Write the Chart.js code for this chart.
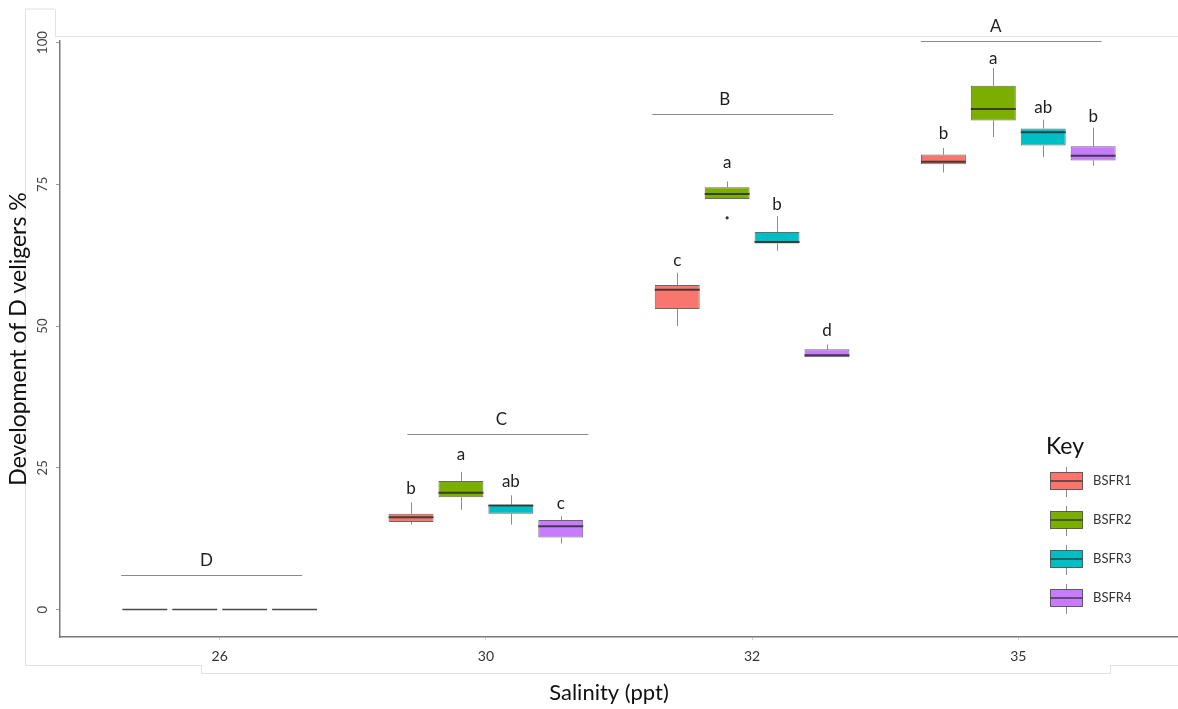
<!DOCTYPE html>
<html>
<head>
<meta charset="utf-8">
<title>Development of D veligers by salinity</title>
<script src="https://cdn.jsdelivr.net/npm/chart.js@4.4.0/dist/chart.umd.min.js"></script>
<style>
  html, body { margin: 0; padding: 0; background: #fff; }
</style>
</head>
<body>
<canvas id="boxChart" width="1178" height="709"></canvas>
<script>
const salinity = ['26', '30', '32', '35'];
const strains = ['BSFR1', 'BSFR2', 'BSFR3', 'BSFR4'];
const colors = ['#F8766D', '#7CAE00', '#00BFC4', '#C77CFF'];

// [lower whisker, q1, median, q3, upper whisker] for each salinity
const bsfr1 = [[0, 0, 0, 0, 0], [15.0, 15.45, 16.3, 16.9, 18.9], [50.0, 53.0, 56.4, 57.25, 59.4], [77.1, 78.55, 79.0, 80.25, 81.4]];
const bsfr2 = [[0, 0, 0, 0, 0], [17.6, 19.8, 20.6, 22.7, 24.3], [72.4, 72.4, 73.3, 74.5, 75.5], [83.35, 86.25, 88.3, 92.4, 95.5]];
const bsfr3 = [[0, 0, 0, 0, 0], [15.0, 16.9, 18.35, 18.5, 20.15], [63.25, 64.55, 64.85, 66.6, 69.4], [79.8, 81.85, 84.2, 84.85, 86.4]];
const bsfr4 = [[0, 0, 0, 0, 0], [11.65, 12.7, 14.7, 15.8, 16.45], [44.5, 44.5, 44.85, 45.9, 46.75], [78.3, 79.2, 80.05, 81.7, 85.0]];
const series = [bsfr1, bsfr2, bsfr3, bsfr4];

// outliers: [strain index, salinity index, value]
const outliers = [[1, 2, 69.1]];

// compact letter display above each box (text and height in %)
const letters = [
  ['', 'b', 'c', 'b'],
  ['', 'a', 'a', 'a'],
  ['', 'ab', 'b', 'ab'],
  ['', 'c', 'd', 'b']
];
const letterY = [
  [null, 21.4, 61.6, 83.9],
  [null, 27.4, 78.9, 97.2],
  [null, 22.6, 71.4, 88.5],
  [null, 18.7, 49.3, 87.0]
];

// salinity groups: bracket letter, bracket height (%), bracket span (in category units)
const groupLetters = ['D', 'C', 'B', 'A'];
const groupLineY = [6.05, 31.0, 87.4, 100.25];
const groupSpan = [[-0.37, 0.31], [-0.295, 0.385], [-0.375, 0.305], [-0.366, 0.313]];
const groupLabelShift = [-0.02, 0.013, -0.068, -0.058];

const yTicks = [0, 25, 50, 75, 100];

const FONT = 'Lato, "Open Sans", sans-serif';

const datasets = series.map((s, d) => ({
    label: strains[d],
    data: s.map((v, i) => ({ x: i, y: [v[1], v[3]] })),
    backgroundColor: colors[d],
    borderColor: 'rgba(55,55,55,0.75)',
    borderWidth: 1,
    borderSkipped: false,
    categoryPercentage: 0.75,
    barPercentage: 0.9
}));

const boxExtras = {
    id: 'boxExtras',
    beforeDatasetsDraw(chart) {
        // whiskers sit behind the boxes
        const { ctx } = chart;
        const y = chart.scales.y;
        ctx.save();
        ctx.strokeStyle = '#8c8c8c';
        ctx.lineWidth = 1;
        series.forEach((s, d) => {
            const meta = chart.getDatasetMeta(d);
            s.forEach((v, i) => {
                const x = Math.round(meta.data[i].x) + 0.5;
                ctx.beginPath();
                ctx.moveTo(x, y.getPixelForValue(v[4]));
                ctx.lineTo(x, y.getPixelForValue(v[3]));
                ctx.moveTo(x, y.getPixelForValue(v[1]));
                ctx.lineTo(x, y.getPixelForValue(v[0]));
                ctx.stroke();
            });
        });
        ctx.restore();
    },
    afterDatasetsDraw(chart) {
        const { ctx } = chart;
        const y = chart.scales.y;
        ctx.save();
        // medians
        series.forEach((s, d) => {
            const meta = chart.getDatasetMeta(d);
            s.forEach((v, i) => {
                const bar = meta.data[i];
                const py = y.getPixelForValue(v[2]);
                const flat = v[3] === v[1] && v[1] === 0;
                ctx.strokeStyle = flat ? '#4a4a4a' : 'rgba(45,45,45,0.85)';
                ctx.lineWidth = flat ? 1.5 : 2;
                ctx.beginPath();
                ctx.moveTo(bar.x - bar.width / 2, py);
                ctx.lineTo(bar.x + bar.width / 2, py);
                ctx.stroke();
            });
        });
        // outliers
        ctx.fillStyle = '#333';
        outliers.forEach(o => {
            const bar = chart.getDatasetMeta(o[0]).data[o[1]];
            ctx.beginPath();
            ctx.arc(bar.x, y.getPixelForValue(o[2]), 1.6, 0, Math.PI * 2);
            ctx.fill();
        });
        ctx.restore();
    },
    afterDraw(chart) {
        const { ctx, chartArea } = chart;
        const x = chart.scales.x;
        const y = chart.scales.y;
        ctx.save();

        // faint frame edges left over from the original figure
        ctx.strokeStyle = '#e2e2e2';
        ctx.lineWidth = 1;
        ctx.beginPath();
        ctx.moveTo(25.5, 9); ctx.lineTo(55.5, 9); ctx.lineTo(55.5, 36.5); ctx.lineTo(1178, 36.5);
        ctx.moveTo(25.5, 9); ctx.lineTo(25.5, 665.5); ctx.lineTo(201.5, 665.5); ctx.lineTo(201.5, 673.5);
        ctx.lineTo(1110.5, 673.5); ctx.lineTo(1110.5, 665.5); ctx.lineTo(1178, 665.5);
        ctx.stroke();

        // letters above boxes
        ctx.fillStyle = '#1e1e1e';
        ctx.font = '17px ' + FONT;
        ctx.textAlign = 'center';
        ctx.textBaseline = 'middle';
        letters.forEach((row, d) => {
            const meta = chart.getDatasetMeta(d);
            row.forEach((t, i) => {
                if (!t) return;
                ctx.fillText(t, meta.data[i].x, y.getPixelForValue(letterY[d][i]));
            });
        });

        // salinity group brackets
        groupLetters.forEach((t, i) => {
            const py = Math.round(y.getPixelForValue(groupLineY[i])) + 0.5;
            ctx.strokeStyle = '#8a8a8a';
            ctx.lineWidth = 1;
            ctx.beginPath();
            ctx.moveTo(x.getPixelForValue(i + groupSpan[i][0]), py);
            ctx.lineTo(x.getPixelForValue(i + groupSpan[i][1]), py);
            ctx.stroke();
            const mid = i + (groupSpan[i][0] + groupSpan[i][1]) / 2 + groupLabelShift[i];
            ctx.fillText(t, x.getPixelForValue(mid), py - 14.5);
        });

        // rotated y tick labels
        ctx.fillStyle = '#444';
        ctx.font = '13px ' + FONT;
        yTicks.forEach(v => {
            ctx.save();
            ctx.translate(43, y.getPixelForValue(v));
            ctx.rotate(-Math.PI / 2);
            ctx.fillText(String(v), 0, 0);
            ctx.restore();
        });

        // axis titles
        ctx.fillStyle = '#111';
        ctx.font = '23px ' + FONT;
        ctx.save();
        ctx.translate(19, (chartArea.top + chartArea.bottom) / 2);
        ctx.rotate(-Math.PI / 2);
        ctx.fillText('Development of D veligers %', 0, 0);
        ctx.restore();
        ctx.font = '22px ' + FONT;
        ctx.fillText('Salinity (ppt)', 609, 693);

        // key
        ctx.textAlign = 'left';
        ctx.font = '23px ' + FONT;
        ctx.fillText('Key', 1046, 447);
        ctx.font = '13px ' + FONT;
        strains.forEach((name, d) => {
            const cy = 481 + d * 39;
            ctx.strokeStyle = '#8c8c8c';
            ctx.lineWidth = 1;
            ctx.beginPath();
            ctx.moveTo(1066.5, cy - 14); ctx.lineTo(1066.5, cy + 16);
            ctx.stroke();
            ctx.fillStyle = colors[d];
            ctx.fillRect(1050.5, cy - 8.5, 32, 17);
            ctx.strokeStyle = 'rgba(55,55,55,0.75)';
            ctx.strokeRect(1050.5, cy - 8.5, 32, 17);
            ctx.strokeStyle = 'rgba(45,45,45,0.85)';
            ctx.lineWidth = 1.5;
            ctx.beginPath();
            ctx.moveTo(1050.5, cy); ctx.lineTo(1082.5, cy);
            ctx.stroke();
            ctx.fillStyle = '#333';
            ctx.fillText(name, 1093, cy);
        });
        ctx.restore();
    }
};

const chart = new Chart(document.getElementById('boxChart').getContext('2d'), {
    type: 'bar',
    data: { datasets: datasets },
    options: {
        responsive: false,
        animation: false,
        layout: { padding: { top: 41, left: 0, right: 0, bottom: 0 } },
        plugins: {
            legend: { display: false },
            tooltip: { enabled: false }
        },
        scales: {
            x: {
                type: 'linear',
                min: -0.6,
                max: 3.6,
                offset: false,
                afterBuildTicks: s => { s.ticks = salinity.map((_, i) => ({ value: i })); },
                afterFit: s => { s.height = 72; },
                grid: { offset: false, drawOnChartArea: false, drawTicks: true, tickLength: 3, color: '#d0d0d0' },
                border: { display: true, color: '#7a7a7a', width: 1.5 },
                ticks: {
                    padding: 8,
                    color: '#333',
                    font: { family: FONT, size: 14 },
                    callback: v => salinity[v]
                }
            },
            y: {
                min: -4.83,
                max: 100.28,
                afterBuildTicks: s => { s.ticks = yTicks.map(v => ({ value: v })); },
                afterFit: s => { s.width = 60; },
                grid: { drawOnChartArea: false, drawTicks: true, tickLength: 4, color: '#9a9a9a' },
                border: { display: true, color: '#7a7a7a', width: 1.5 },
                ticks: { display: false }
            }
        }
    },
    plugins: [boxExtras]
});
</script>
</body>
</html>
